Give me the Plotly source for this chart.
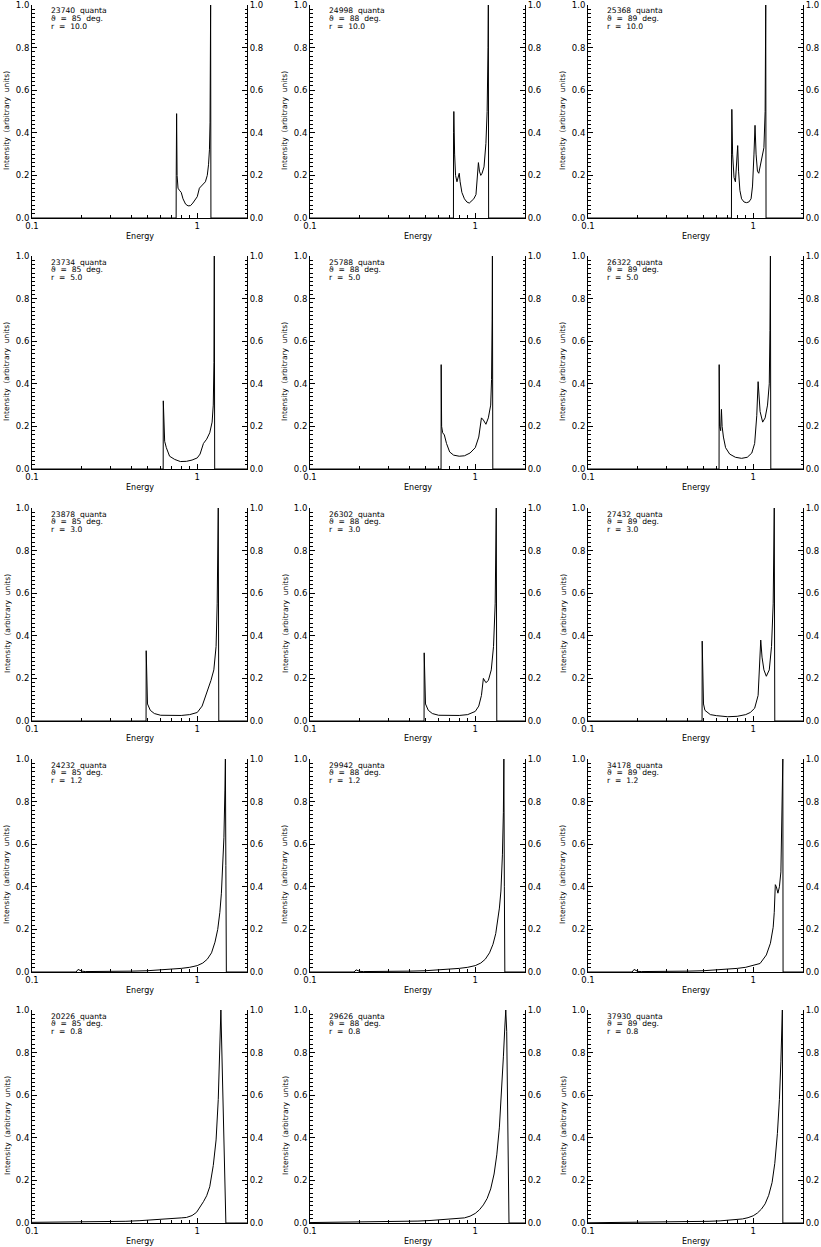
import numpy as np
import plotly.graph_objects as go

# ---- panel labels ----
quanta = [23740, 24998, 25368,
          23734, 25788, 26322,
          23878, 26302, 27432,
          24232, 29942, 34178,
          20226, 29626, 37930]
theta_deg = [85, 88, 89]
radius = ["10.0", "5.0", "3.0", "1.2", "0.8"]

# ---- spectra (energy, normalised intensity) ----
# r = 10.0
e_10_85 = [0.10, 0.745, 0.746, 0.750, 0.755, 0.765, 0.78, 0.80, 0.82, 0.85, 0.88, 0.91, 0.94, 0.97,
           1.00, 1.03, 1.06, 1.09, 1.12, 1.15, 1.17, 1.185, 1.195, 1.205, 1.21, 2.0]
i_10_85 = [0, 0, 0.20, 0.49, 0.20, 0.14, 0.13, 0.12, 0.09, 0.065, 0.057, 0.058, 0.07, 0.085,
           0.10, 0.14, 0.15, 0.16, 0.17, 0.20, 0.25, 0.32, 0.45, 1.0, 0, 0]
e_10_88 = [0.10, 0.738, 0.739, 0.742, 0.75, 0.76, 0.775, 0.79, 0.80, 0.81, 0.83, 0.86, 0.89, 0.92,
           0.95, 0.98, 1.01, 1.03, 1.045, 1.06, 1.08, 1.10, 1.13, 1.16, 1.18, 1.195, 1.20, 1.205, 2.0]
i_10_88 = [0, 0, 0.40, 0.50, 0.30, 0.20, 0.17, 0.19, 0.21, 0.17, 0.12, 0.09, 0.075, 0.07,
           0.08, 0.09, 0.11, 0.18, 0.26, 0.22, 0.20, 0.21, 0.24, 0.35, 0.50, 0.80, 1.0, 0, 0]
e_10_89 = [0.10, 0.738, 0.739, 0.742, 0.75, 0.765, 0.78, 0.795, 0.805, 0.815, 0.83, 0.85, 0.88, 0.91,
           0.94, 0.97, 0.99, 1.01, 1.025, 1.04, 1.06, 1.08, 1.11, 1.14, 1.16, 1.18, 1.19, 1.195, 2.0]
i_10_89 = [0, 0, 0.30, 0.51, 0.30, 0.19, 0.17, 0.25, 0.34, 0.22, 0.13, 0.09, 0.075, 0.072,
           0.075, 0.09, 0.15, 0.30, 0.435, 0.30, 0.22, 0.21, 0.25, 0.30, 0.33, 0.50, 1.0, 0, 0]
# r = 5.0
e_5_85 = [0.10, 0.622, 0.623, 0.627, 0.635, 0.65, 0.68, 0.73, 0.79, 0.86, 0.93, 1.00, 1.04, 1.09,
          1.14, 1.19, 1.23, 1.25, 1.262, 1.268, 1.275, 2.0]
i_5_85 = [0, 0, 0.32, 0.18, 0.13, 0.10, 0.06, 0.045, 0.035, 0.036, 0.042, 0.052, 0.07, 0.12,
          0.14, 0.17, 0.22, 0.30, 0.50, 1.0, 0, 0]
e_5_88 = [0.10, 0.621, 0.622, 0.626, 0.635, 0.65, 0.67, 0.70, 0.74, 0.80, 0.86, 0.93, 1.00, 1.05,
          1.09, 1.12, 1.16, 1.20, 1.24, 1.255, 1.265, 1.27, 1.277, 2.0]
i_5_88 = [0, 0, 0.49, 0.20, 0.17, 0.16, 0.12, 0.08, 0.065, 0.06, 0.062, 0.075, 0.10, 0.15,
          0.24, 0.23, 0.21, 0.24, 0.30, 0.42, 0.70, 1.0, 0, 0]
e_5_89 = [0.10, 0.621, 0.622, 0.626, 0.635, 0.642, 0.648, 0.66, 0.68, 0.72, 0.78, 0.85, 0.92, 0.98,
          1.02, 1.05, 1.07, 1.10, 1.14, 1.18, 1.22, 1.25, 1.262, 1.27, 1.277, 2.0]
i_5_89 = [0, 0, 0.49, 0.20, 0.18, 0.28, 0.20, 0.15, 0.10, 0.07, 0.055, 0.05, 0.055, 0.075,
          0.12, 0.25, 0.41, 0.27, 0.22, 0.24, 0.30, 0.40, 0.65, 1.0, 0, 0]
# r = 3.0
e_3_85 = [0.10, 0.490, 0.491, 0.495, 0.50, 0.52, 0.55, 0.60, 0.70, 0.80, 0.90, 1.00, 1.07, 1.13,
          1.17, 1.21, 1.26, 1.30, 1.32, 1.34, 1.35, 2.0]
i_3_85 = [0, 0, 0.33, 0.12, 0.08, 0.05, 0.035, 0.027, 0.025, 0.026, 0.03, 0.04, 0.07, 0.12,
          0.16, 0.19, 0.24, 0.35, 0.55, 1.0, 0, 0]
e_3_88 = [0.10, 0.490, 0.491, 0.495, 0.50, 0.52, 0.55, 0.60, 0.70, 0.80, 0.90, 1.00, 1.05, 1.09,
          1.12, 1.16, 1.20, 1.25, 1.29, 1.32, 1.34, 1.35, 2.0]
i_3_88 = [0, 0, 0.32, 0.12, 0.08, 0.05, 0.035, 0.027, 0.025, 0.026, 0.03, 0.045, 0.07, 0.12,
          0.20, 0.18, 0.19, 0.24, 0.35, 0.55, 1.0, 0, 0]
e_3_89 = [0.10, 0.490, 0.491, 0.495, 0.50, 0.51, 0.55, 0.60, 0.70, 0.80, 0.90, 0.96, 1.02, 1.07,
          1.10, 1.11, 1.13, 1.16, 1.20, 1.25, 1.29, 1.32, 1.34, 1.35, 2.0]
i_3_89 = [0, 0, 0.375, 0.15, 0.08, 0.05, 0.03, 0.025, 0.02, 0.022, 0.03, 0.04, 0.06, 0.12,
          0.30, 0.38, 0.30, 0.24, 0.21, 0.24, 0.35, 0.55, 1.0, 0, 0]
# r = 1.2
e_12_85 = [0.10, 0.185, 0.19, 0.195, 0.20, 0.21, 0.25, 0.30, 0.40, 0.50, 0.60, 0.70, 0.80, 0.90,
           1.00, 1.08, 1.15, 1.22, 1.28, 1.33, 1.37, 1.40, 1.43, 1.45, 1.47, 1.48, 1.49, 1.50, 2.0]
i_12_85 = [0, 0.0, 0.012, 0.008, 0.004, 0.002, 0.002, 0.002, 0.004, 0.006, 0.009, 0.012, 0.017, 0.022,
           0.030, 0.042, 0.06, 0.09, 0.14, 0.20, 0.28, 0.37, 0.50, 0.63, 0.85, 1.0, 0.5, 0, 0]
e_12_88 = [0.10, 0.185, 0.19, 0.195, 0.20, 0.21, 0.25, 0.30, 0.40, 0.50, 0.60, 0.70, 0.80, 0.90,
           1.00, 1.08, 1.15, 1.22, 1.28, 1.33, 1.37, 1.40, 1.43, 1.46, 1.48, 1.49, 1.50, 1.51, 2.0]
i_12_88 = [0, 0.0, 0.010, 0.006, 0.003, 0.002, 0.002, 0.002, 0.004, 0.006, 0.009, 0.012, 0.017, 0.022,
           0.030, 0.042, 0.06, 0.09, 0.13, 0.18, 0.24, 0.30, 0.38, 0.55, 0.75, 1.0, 0.4, 0, 0]
e_12_89 = [0.10, 0.185, 0.19, 0.195, 0.20, 0.21, 0.25, 0.30, 0.40, 0.50, 0.60, 0.70, 0.80, 0.90,
           1.00, 1.10, 1.20, 1.27, 1.32, 1.34, 1.36, 1.38, 1.41, 1.44, 1.47, 1.49, 1.51, 1.515, 2.0]
i_12_89 = [0, 0.0, 0.012, 0.006, 0.003, 0.002, 0.002, 0.002, 0.004, 0.006, 0.009, 0.012, 0.017, 0.022,
           0.03, 0.04, 0.08, 0.135, 0.21, 0.28, 0.41, 0.40, 0.37, 0.40, 0.47, 0.7, 1.0, 0, 0]
# r = 0.8
e_08_85 = [0.10, 0.15, 0.20, 0.25, 0.30, 0.37, 0.45, 0.54, 0.63, 0.72, 0.80, 0.86, 0.93, 0.99,
           1.04, 1.09, 1.14, 1.19, 1.25, 1.30, 1.34, 1.37, 1.39, 1.49, 2.0]
i_08_85 = [0.003, 0.004, 0.005, 0.006, 0.007, 0.008, 0.011, 0.014, 0.018, 0.021, 0.024, 0.026, 0.035, 0.05,
           0.073, 0.10, 0.128, 0.17, 0.27, 0.39, 0.58, 0.81, 1.0, 0, 0]
e_08_88 = [0.10, 0.15, 0.20, 0.25, 0.30, 0.37, 0.45, 0.54, 0.63, 0.72, 0.80, 0.86, 0.93, 1.00,
           1.06, 1.12, 1.18, 1.24, 1.30, 1.35, 1.40, 1.44, 1.48, 1.51, 1.53, 1.55, 1.60, 2.0]
i_08_88 = [0.002, 0.003, 0.004, 0.005, 0.006, 0.007, 0.009, 0.012, 0.015, 0.018, 0.021, 0.024, 0.032, 0.045,
           0.062, 0.085, 0.115, 0.16, 0.23, 0.32, 0.45, 0.60, 0.78, 0.92, 1.0, 0.9, 0, 0]
e_08_89 = [0.10, 0.15, 0.20, 0.25, 0.30, 0.37, 0.45, 0.54, 0.63, 0.72, 0.80, 0.86, 0.93, 1.00,
           1.06, 1.12, 1.18, 1.24, 1.30, 1.35, 1.40, 1.44, 1.47, 1.49, 1.50, 1.51, 2.0]
i_08_89 = [0.001, 0.002, 0.002, 0.003, 0.004, 0.005, 0.006, 0.008, 0.010, 0.013, 0.016, 0.019, 0.025, 0.034,
           0.047, 0.065, 0.09, 0.13, 0.19, 0.28, 0.42, 0.58, 0.76, 0.90, 1.0, 0, 0]

energies = [e_10_85, e_10_88, e_10_89, e_5_85, e_5_88, e_5_89, e_3_85, e_3_88, e_3_89,
            e_12_85, e_12_88, e_12_89, e_08_85, e_08_88, e_08_89]
intensities = [i_10_85, i_10_88, i_10_89, i_5_85, i_5_88, i_5_89, i_3_85, i_3_88, i_3_89,
               i_12_85, i_12_88, i_12_89, i_08_85, i_08_88, i_08_89]

# ---- page geometry (pixels) ----
W, H = 821, 1247
col_left = [32, 310, 588]
plot_w = 215
row_top = [5, 256, 508, 759, 1010]
plot_h = 213

FONT = "DejaVu Sans"

fig = go.Figure()
layout = dict(width=W, height=H, margin=dict(l=0, r=0, t=0, b=0, autoexpand=False),
              template="none",
              plot_bgcolor="white", paper_bgcolor="white", showlegend=False,
              font=dict(family=FONT, size=8, color="black"))
annotations = []

for k in range(15):
    row, col = divmod(k, 3)
    n = k + 1
    xs = "" if n == 1 else str(n)
    x0 = col_left[col] / W
    x1 = (col_left[col] + plot_w) / W
    y1 = 1 - row_top[row] / H
    y0 = 1 - (row_top[row] + plot_h) / H

    fig.add_trace(go.Scatter(x=energies[k], y=intensities[k], mode="lines",
                             line=dict(color="black", width=1),
                             xaxis="x" + xs, yaxis="y" + xs, hoverinfo="skip"))
    # dummy trace so the right-hand axis is drawn
    fig.add_trace(go.Scatter(x=[0.1], y=[0], mode="markers", marker=dict(opacity=0),
                             xaxis="x" + xs, yaxis="y" + str(n + 15), hoverinfo="skip"))

    layout["xaxis" + xs] = dict(
        type="log", range=[-1, np.log10(2)], domain=[x0, x1], anchor="y" + xs,
        tickvals=[0.1, 1], ticktext=["0.1", "1"], ticks="inside", ticklen=5,
        tickcolor="black", showline=True, linecolor="black", linewidth=1,
        showgrid=False, zeroline=False, automargin=False, tickfont=dict(size=8.5),
        ticklabeloverflow="allow",
        minor=dict(tickmode="array", tickvals=[0.2, 0.3, 0.4, 0.5, 0.6, 0.7, 0.8, 0.9, 2],
                   ticks="inside", ticklen=3, tickcolor="black", showgrid=False))
    yax = dict(range=[0, 1], tickmode="linear", tick0=0, dtick=0.2, tickformat=".1f",
               ticks="inside", ticklen=5, tickcolor="black", showline=True,
               linecolor="black", linewidth=1, showgrid=False, zeroline=False,
               automargin=False, tickfont=dict(size=8.5), ticklabeloverflow="allow",
               minor=dict(tickmode="linear", tick0=0, dtick=0.02, ticks="inside",
                          ticklen=2.5, tickcolor="black", showgrid=False))
    layout["yaxis" + xs] = dict(yax, domain=[y0, y1], anchor="x" + xs)
    layout["yaxis" + str(n + 15)] = dict(yax, overlaying="y" + xs, side="right",
                                         anchor="x" + xs)

    # panel text
    lines = ["%d\u00a0\u00a0quanta" % quanta[k],
             "\u03d1\u00a0\u00a0=\u00a0\u00a0%d\u00a0\u00a0deg." % theta_deg[col],
             "r\u00a0\u00a0=\u00a0\u00a0%s" % radius[row]]
    for j, t in enumerate(lines):
        annotations.append(dict(text=t, xref="paper", yref="paper",
                                x=(col_left[col] + 17) / W,
                                y=1 - (row_top[row] + 6 + 7.6 * j) / H,
                                xanchor="left", yanchor="middle", showarrow=False,
                                font=dict(size=7.6)))
    # axis titles
    annotations.append(dict(text="Energy", xref="paper", yref="paper",
                            x=(col_left[col] + plot_w / 2) / W,
                            y=1 - (row_top[row] + plot_h + 18) / H,
                            xanchor="center", yanchor="middle", showarrow=False,
                            font=dict(size=8)))
    annotations.append(dict(text="Intensity\u00a0\u00a0(arbitrary\u00a0\u00a0units)",
                            xref="paper", yref="paper",
                            x=(col_left[col] - 25) / W,
                            y=1 - (row_top[row] + 116) / H,
                            xanchor="center", yanchor="middle", textangle=-90,
                            showarrow=False, font=dict(size=7.5)))

layout["annotations"] = annotations
fig.update_layout(**layout)
fig.write_html("out.html", config={"displayModeBar": False},
               post_script="document.body.style.margin='0px';")
